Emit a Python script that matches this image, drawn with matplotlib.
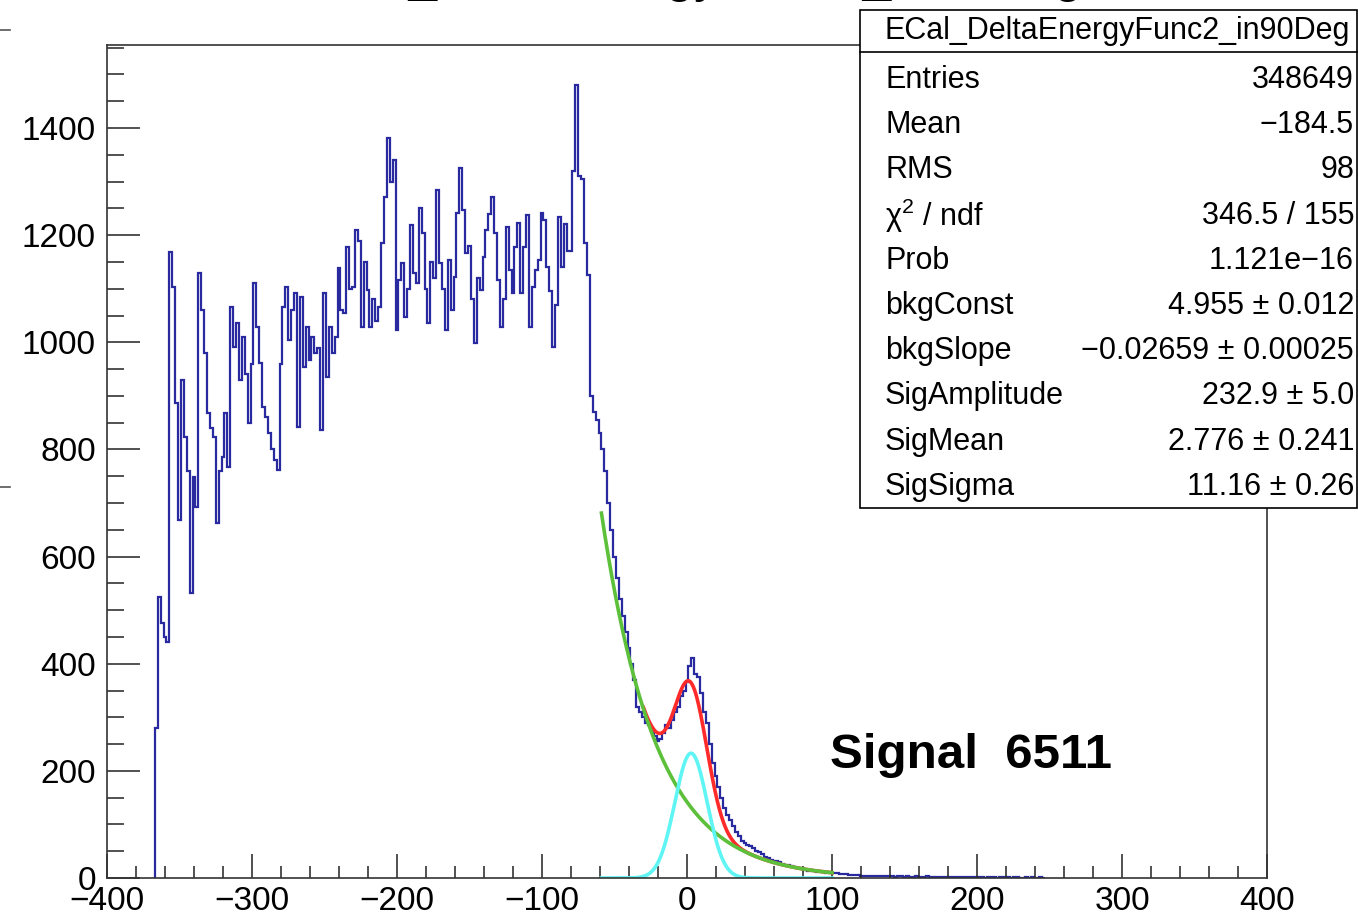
import numpy as np
import matplotlib
matplotlib.use("Agg")
import matplotlib.pyplot as plt
from matplotlib.patches import Rectangle
from matplotlib.lines import Line2D

plt.rcParams['font.family'] = ['Liberation Sans', 'DejaVu Sans']
plt.rcParams['mathtext.fontset'] = 'custom'
plt.rcParams['mathtext.rm'] = 'Liberation Sans'

# histogram, 2-unit bins starting at -367
bin_lo = -367
bin_w = 2
counts = [
    280, 525, 476, 450, 440, 1168, 1103, 887, 668, 930,
    823, 760, 532, 748, 693, 1129, 1060, 980, 868, 840,
    823, 663, 760, 786, 868, 768, 1066, 991, 1036, 930,
    1010, 940, 850, 960, 1111, 1029, 961, 880, 860, 830,
    800, 780, 762, 960, 1066, 1103, 1004, 1060, 1092, 842,
    1085, 954, 1029, 967, 1010, 980, 990, 836, 1092, 935,
    1029, 980, 1010, 1139, 1060, 1054, 1178, 1100, 1103, 1209,
    1190, 1029, 1150, 1097, 1029, 1080, 1040, 1066, 1185, 1271,
    1381, 1300, 1340, 1023, 1116, 1148, 1047, 1100, 1219, 1129,
    1110, 1251, 1204, 1100, 1036, 1150, 1120, 1284, 1148, 1100,
    1023, 1153, 1060, 1122, 1241, 1325, 1247, 1167, 1180, 1080,
    999, 1120, 1097, 1159, 1210, 1240, 1271, 1204, 1116, 1029,
    1080, 1215, 1135, 1092, 1178, 1222, 1092, 1178, 1238, 1029,
    1103, 1135, 1153, 1241, 1228, 1141, 1095, 991, 1070, 1234,
    1140, 1220, 1170, 1170, 1320, 1480, 1310, 1305, 1185, 1125,
    900, 870, 855, 830, 800, 760, 700, 650, 600, 560,
    520, 490, 460, 430, 400, 370, 320, 310, 300, 290,
    285, 275, 265, 255, 260, 270, 285, 280, 295, 310,
    320, 340, 350, 365, 395, 410, 380, 375, 345, 310,
    290, 250, 215, 190, 170, 150, 130, 118, 108, 98,
    85, 78, 70, 66, 62, 60, 56, 50, 48, 44,
    40, 37, 34, 32, 31, 29, 27, 25, 24, 22,
    20, 19, 18, 16, 15, 14, 14, 13, 12, 11,
    11, 10, 10, 9, 10, 9, 8, 7, 7, 6,
    6, 5, 5, 4, 4, 4, 4, 3, 4, 3,
    3, 4, 3, 3, 3, 2, 3, 3, 2, 3,
    2, 2, 3, 2, 2, 2, 3, 2, 2, 2,
    2, 2, 1, 1, 2, 1, 1, 1, 2, 1,
    1, 1, 1, 2, 1, 1, 0, 1, 1, 1,
    0, 1, 1, 0, 1, 0, 1, 1, 0, 0,
    1, 0, 1, 0, 0, 1, 0,
]
edges = bin_lo + bin_w * np.arange(len(counts) + 1)

# fit parameters from the stats box
bkgConst, bkgSlope = 4.955, -0.02659
sigAmp, sigMean, sigSigma = 232.9, 2.776, 11.16

stat_names = ["Entries", "Mean", "RMS", "\u03c7$^{2}$ / ndf", "Prob", "bkgConst",
              "bkgSlope", "SigAmplitude", "SigMean", "SigSigma"]
stat_values = ["348649", "\u2212184.5", "98", "346.5 / 155", "1.121e\u221216",
               "4.955 \u00b1 0.012", "\u22120.02659 \u00b1 0.00025", "232.9 \u00b1 5.0",
               "2.776 \u00b1 0.241", "11.16 \u00b1 0.26"]
hist_name = "ECal_DeltaEnergyFunc2_in90Deg"

W, H = 1358, 915
fig = plt.figure(figsize=(W / 100, H / 100), dpi=100)
ax = fig.add_axes([107 / W, 1 - 878 / H, (1267 - 107) / W, (878 - 45) / H])

ax.stairs(counts, edges, color='#2a2aa0', lw=1.6)

def bkg(x):
    return np.exp(bkgConst + bkgSlope * x)

def sig(x):
    return sigAmp * np.exp(-0.5 * ((x - sigMean) / sigSigma) ** 2)

xf = np.linspace(-59, 100, 400)
xr = np.linspace(-30, 100, 300)
ax.plot(xr, bkg(xr) + sig(xr), color='#ff2a2a', lw=2.6)
ax.plot(xf, bkg(xf), color='#5cc03a', lw=2.6)
ax.plot(xf, sig(xf), color='#5ff5f5', lw=2.6)

ax.set_xlim(-400, 400)
ax.set_ylim(0, 1555)
ax.set_xticks(np.arange(-400, 401, 100))
ax.set_xticks(np.arange(-400, 401, 20), minor=True)
ax.set_yticks(np.arange(0, 1401, 200))
ax.set_yticks(np.arange(0, 1551, 50), minor=True)
ax.tick_params(which='both', direction='in', top=False, right=False,
               labelsize=24, width=1.1, color='#222222')
ax.tick_params(axis='x', which='major', length=17, pad=6)
ax.tick_params(axis='x', which='minor', length=9)
ax.tick_params(axis='y', which='major', length=24, pad=8)
ax.tick_params(axis='y', which='minor', length=12)
for s in ax.spines.values():
    s.set_linewidth(1.2)
    s.set_color('#333333')

# title, mostly cut off by the top of the canvas
fig.text(690 / W, 1 + 9 / H, hist_name, ha='center', va='baseline', fontsize=37)

# stats box
def fx(px):
    return px / W

def fy(py):
    return 1 - py / H

fig.add_artist(Rectangle((fx(860), fy(508)), fx(1357) - fx(860), fy(10) - fy(508),
                         transform=fig.transFigure, facecolor='white',
                         edgecolor='black', lw=1.2, zorder=5))
fig.add_artist(Line2D([fx(860), fx(1357)], [fy(52), fy(52)], transform=fig.transFigure,
                      color='black', lw=1.2, zorder=6))
fig.text(fx(1117), fy(31), hist_name, ha='center', va='center', fontsize=22, zorder=7)
for i, (name, val) in enumerate(zip(stat_names, stat_values)):
    yy = fy(80 + i * 45.2)
    fig.text(fx(885), yy, name, ha='left', va='center', fontsize=22, zorder=7)
    fig.text(fx(1354), yy, val, ha='right', va='center', fontsize=22, zorder=7)

fig.text(fx(830), fy(756), "Signal  6511", ha='left', va='center', fontsize=35.5,
         fontweight='bold')

# marks at the left edge of the canvas
for py in (30, 487):
    fig.add_artist(Line2D([0, fx(10)], [fy(py), fy(py)], transform=fig.transFigure,
                          color='#555555', lw=1.2))

fig.savefig("out.png", dpi=100)
